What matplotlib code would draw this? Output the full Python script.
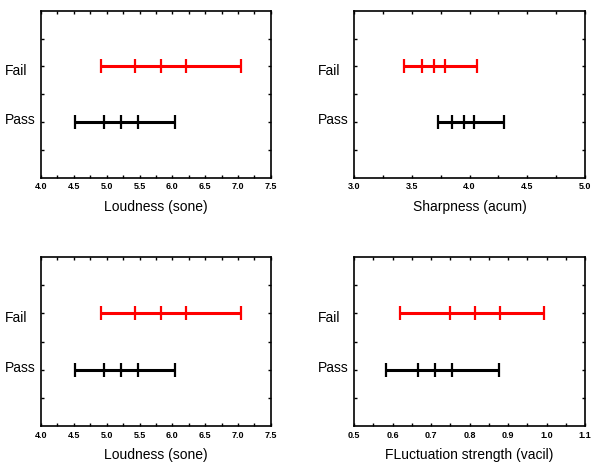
import matplotlib
matplotlib.use("Agg")
import matplotlib.pyplot as plt
import matplotlib.transforms as mtransforms
from matplotlib.ticker import MultipleLocator, FormatStrFormatter

plt.rcParams.update({
    'font.family': ['Liberation Sans', 'DejaVu Sans'],
    'xtick.direction': 'in',
    'ytick.direction': 'in',
})

groups = ['Pass', 'Fail']
colors = {'Pass': 'black', 'Fail': 'red'}

# min, Q1, median, Q3, max for each group
loud_pass = [4.51, 4.96, 5.22, 5.48, 6.04]
loud_fail = [4.91, 5.43, 5.83, 6.21, 7.04]
sharp_pass = [3.73, 3.85, 3.95, 4.04, 4.30]
sharp_fail = [3.43, 3.59, 3.69, 3.785, 4.065]
fluct_pass = [0.582, 0.665, 0.710, 0.754, 0.877]
fluct_fail = [0.619, 0.748, 0.813, 0.878, 0.994]

panels = [
    (loud_pass, loud_fail, 'Loudness (sone)', (4.0, 7.5), 0.5, 0.25),
    (sharp_pass, sharp_fail, 'Sharpness (acum)', (3.0, 5.0), 0.5, 0.25),
    (loud_pass, loud_fail, 'Loudness (sone)', (4.0, 7.5), 0.5, 0.25),
    (fluct_pass, fluct_fail, 'FLuctuation strength (vacil)', (0.5, 1.1), 0.1, 0.05),
]

fig = plt.figure(figsize=(5.91, 4.65), dpi=100)
rects = [
    [0.0694, 0.617, 0.389, 0.360],
    [0.599, 0.617, 0.391, 0.360],
    [0.0694, 0.083, 0.389, 0.365],
    [0.599, 0.083, 0.391, 0.365],
]

for rect, (p, f, xlabel, xlim, major, minor) in zip(rects, panels):
    ax = fig.add_axes(rect)
    for ypos, vals, name, dy in [(2, p, 'Pass', 0.02), (4, f, 'Fail', -0.05)]:
        c = colors[name]
        ax.plot([vals[0], vals[-1]], [ypos, ypos], color=c, lw=2.2, solid_capstyle='butt')
        ax.plot(vals, [ypos] * len(vals), ls='none', marker='|', ms=10, mew=1.6, color=c)
        off = mtransforms.ScaledTranslation(-0.36, dy, fig.dpi_scale_trans)
        ax.text(0, ypos, name, transform=ax.get_yaxis_transform() + off,
                ha='left', va='center', fontsize=10)
    ax.set_xlim(*xlim)
    ax.set_ylim(0, 6)
    ax.xaxis.set_major_locator(MultipleLocator(major))
    ax.xaxis.set_minor_locator(MultipleLocator(minor))
    ax.xaxis.set_major_formatter(FormatStrFormatter('%.1f'))
    ax.set_yticks([2, 4])
    ax.set_yticklabels([])
    ax.set_yticks([1, 3, 5], minor=True)
    ax.tick_params(which='both', top=True, right=True, length=2.5, width=1)
    ax.tick_params(axis='x', which='major', labelsize=6.5, pad=3)
    for lab in ax.get_xticklabels():
        lab.set_fontweight('bold')
    for s in ax.spines.values():
        s.set_linewidth(1.2)
    ax.set_xlabel(xlabel, fontsize=10, labelpad=6)

fig.savefig('out.png', dpi=100)
